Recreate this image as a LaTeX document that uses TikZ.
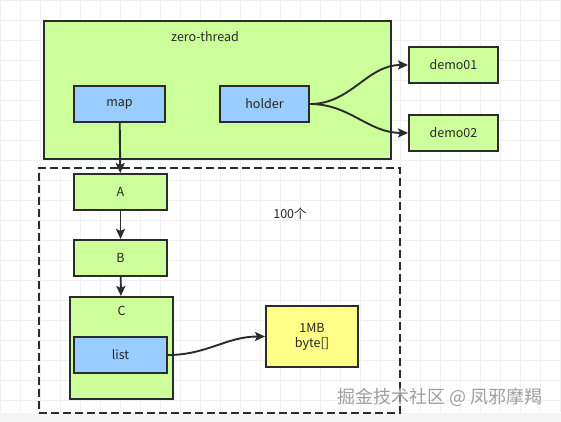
\documentclass[tikz,border=0pt]{standalone}
\usepackage{fontspec}
\setmainfont{Noto Sans CJK SC}
\usepackage{tikz}
\usetikzlibrary{arrows, arrows.meta, positioning}
\definecolor{boxgreen}{HTML}{CCFF99}
\definecolor{boxblue}{HTML}{99CCFF}
\definecolor{boxyellow}{HTML}{FFFF88}
\definecolor{lineclr}{HTML}{2B2B2B}
\tikzstyle{greennode} = [rectangle, text centered, draw=lineclr, line width=1.9pt, fill=boxgreen, minimum width=93pt, minimum height=36pt, inner sep=0pt]
\tikzstyle{bluenode} = [rectangle, text centered, draw=lineclr, line width=1.9pt, fill=boxblue, minimum width=91pt, minimum height=36pt, inner sep=0pt]
\tikzstyle{arrow} = [-{Stealth[length=10pt, width=9pt, inset=2pt]}, line width=1.9pt, draw=lineclr]

\begin{document}
\begin{tikzpicture}[x=1pt, y=-1pt, font=\fontsize{12.5}{14}\selectfont, text=black!85]
    \useasboundingbox (0,0) rectangle (561,422);
    % background grid
    \fill[white] (0,0) rectangle (561,422);
    \foreach \i in {0,20,...,560} \draw[gray!12, line width=0.5pt] (\i,0) -- (\i,412);
    \foreach \j in {0,20,...,400} \draw[gray!12, line width=0.5pt] (0,\j) -- (561,\j);
    \fill[gray!8] (0,413) rectangle (561,422);

    % thread box
    \node (thread) [greennode, minimum width=347pt, minimum height=138pt, anchor=north west] at (43,20) {};
    \node (threadlabel) at (205,37) {zero-thread};
    \node (map) [bluenode] at (119.5,104) {map};
    \node (holder) [bluenode, minimum width=89pt] at (264.5,104) {holder};
    \node (demo1) [greennode, minimum width=89pt] at (453.5,65) {demo01};
    \node (demo2) [greennode, minimum width=89pt, below=30pt of demo1] {demo02};

    % dashed region
    \node (region) [draw=lineclr, line width=1.9pt, dash pattern=on 8pt off 4pt, minimum width=361pt, minimum height=245pt, anchor=north west] at (38,167) {};
    \node (count) at (290,214) {100个};
    \node (A) [greennode] at (120.5,192) {A};
    \node (B) [greennode, below=28pt of A] {B};
    \node (C) [greennode, minimum width=103pt, minimum height=102pt, anchor=north] at (121.5,296) {};
    \node (clabel) at (121.5,311) {C};
    \node (list) [bluenode, minimum width=93pt] at (120.5,355) {list};
    \node (mem) [greennode, fill=boxyellow, minimum width=92pt, minimum height=61pt, align=center] at (312,336.5) {1MB\\[1pt]byte[]};

    \draw [arrow] (map) -- (A);
    \draw [arrow] (A) -- (B);
    \draw [arrow] (B) -- (C);
    \draw [arrow] (holder.east) to[out=0, in=180] (demo1.west);
    \draw [arrow] (holder.east) to[out=0, in=180] (demo2.west);
    \draw [arrow] (list.east) to[out=0, in=180] (mem.west);

    % watermark
    \node (mark) [text=gray!75, font=\fontsize{18}{20}\selectfont] at (440,397) {掘金技术社区 @ 凤邪摩羯};
\end{tikzpicture}
\end{document}
